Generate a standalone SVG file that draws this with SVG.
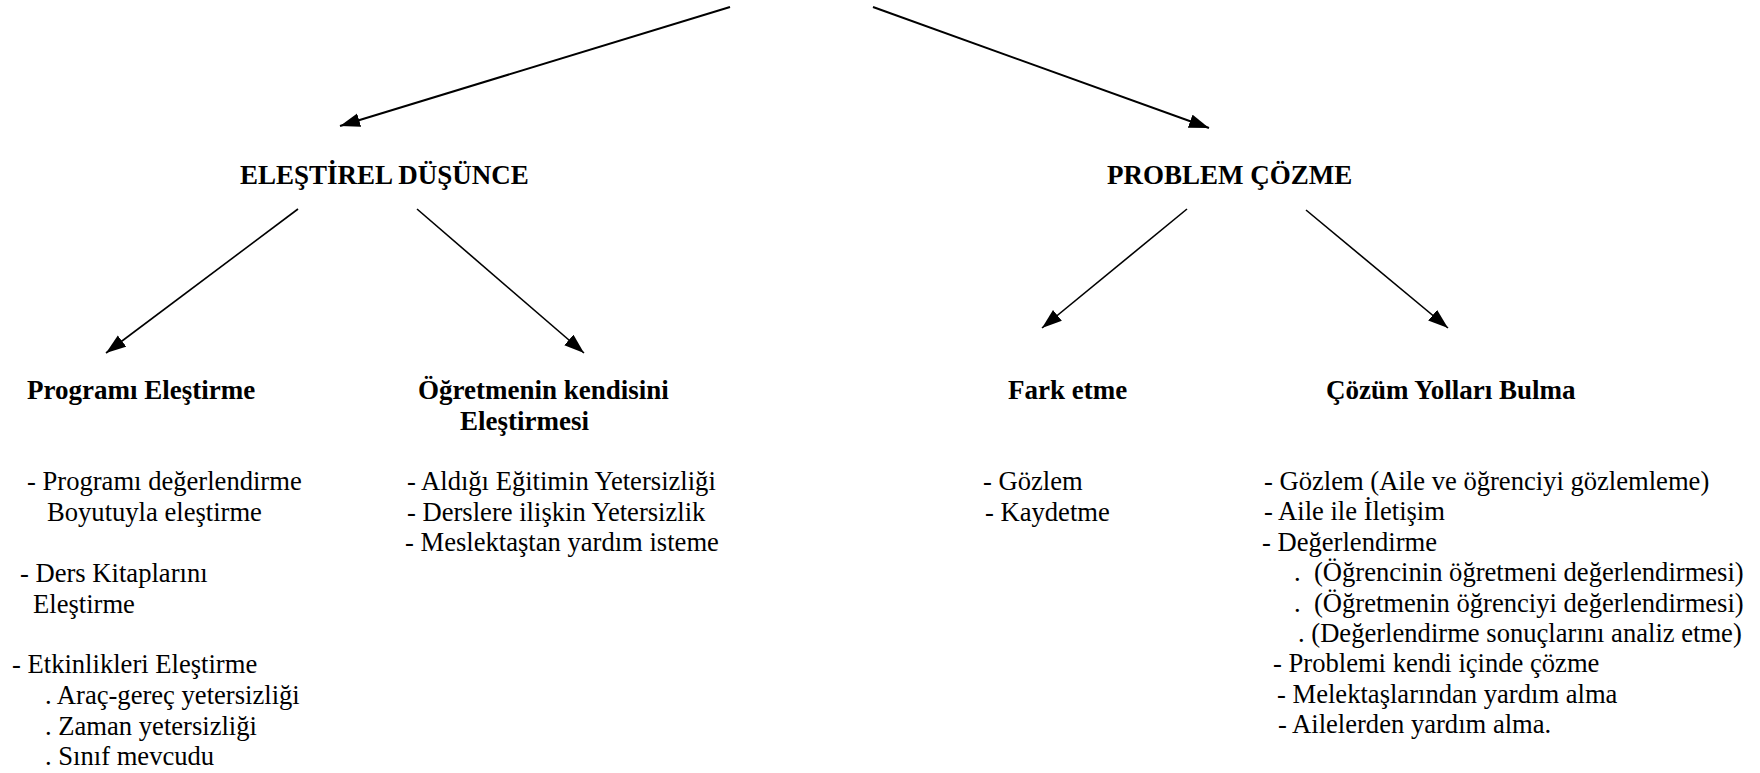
<svg xmlns="http://www.w3.org/2000/svg" width="1760" height="773" viewBox="0 0 1760 773">
<style>
.b{font-weight:bold;font-size:27px}
.c{stroke:#000;fill:none}
.t{stroke-width:2}
.s{stroke-width:1.6}
</style>
<defs>
<marker id="ah" markerUnits="userSpaceOnUse" markerWidth="22" markerHeight="16" refX="20" refY="7" orient="auto" viewBox="0 0 22 16">
<path d="M0,0 L20,7 L0,14 z" fill="#000"/>
</marker>
</defs>
<rect width="1760" height="773" fill="#fff"/>
<g id="connectors">
<line class="c t" x1="730" y1="7" x2="340" y2="126" marker-end="url(#ah)"/>
<line class="c t" x1="873" y1="7" x2="1209" y2="128" marker-end="url(#ah)"/>
<line class="c s" x1="298" y1="209" x2="106" y2="353" marker-end="url(#ah)"/>
<line class="c s" x1="417" y1="209" x2="584" y2="353" marker-end="url(#ah)"/>
<line class="c s" x1="1187" y1="209" x2="1042" y2="328" marker-end="url(#ah)"/>
<line class="c s" x1="1306" y1="210" x2="1448" y2="328" marker-end="url(#ah)"/>
</g>
<g font-family="'Liberation Serif', serif" font-size="26.6" fill="#000">
<g id="elestirel">
<text class="b" x="240" y="184">ELEŞTİREL DÜŞÜNCE</text>
</g>
<g id="problem">
<text class="b" x="1107" y="184">PROBLEM ÇÖZME</text>
</g>
<g id="programi">
<text class="b" x="27" y="399">Programı Eleştirme</text>
<text x="27" y="490">- Programı değerlendirme</text>
<text x="47" y="521">Boyutuyla eleştirme</text>
<text x="20" y="582">- Ders Kitaplarını</text>
<text x="33" y="612.5">Eleştirme</text>
<text x="12" y="673">- Etkinlikleri Eleştirme</text>
<text x="45" y="704">. Araç-gereç yetersizliği</text>
<text x="45" y="734.5">. Zaman yetersizliği</text>
<text x="45" y="765">. Sınıf mevcudu</text>
</g>
<g id="ogretmen">
<text class="b" x="418" y="399">Öğretmenin kendisini</text>
<text class="b" x="460" y="430">Eleştirmesi</text>
<text x="407" y="490">- Aldığı Eğitimin Yetersizliği</text>
<text x="407" y="520.5">- Derslere ilişkin Yetersizlik</text>
<text x="405" y="551">- Meslektaştan yardım isteme</text>
</g>
<g id="fark">
<text class="b" x="1008" y="399">Fark etme</text>
<text x="983" y="490">- Gözlem</text>
<text x="985" y="520.5">- Kaydetme</text>
</g>
<g id="cozum">
<text class="b" x="1326" y="399">Çözüm Yolları Bulma</text>
<text x="1264" y="490">- Gözlem (Aile ve öğrenciyi gözlemleme)</text>
<text x="1264" y="520.4">- Aile ile İletişim</text>
<text x="1262" y="550.8">- Değerlendirme</text>
<text x="1294" y="581.2" xml:space="preserve">.  (Öğrencinin öğretmeni değerlendirmesi)</text>
<text x="1294" y="611.6" xml:space="preserve">.  (Öğretmenin öğrenciyi değerlendirmesi)</text>
<text x="1298" y="642">. (Değerlendirme sonuçlarını analiz etme)</text>
<text x="1273" y="672.4">- Problemi kendi içinde çözme</text>
<text x="1277" y="702.8">- Melektaşlarından yardım alma</text>
<text x="1278" y="733.2">- Ailelerden yardım alma.</text>
</g>
</g>
</svg>
